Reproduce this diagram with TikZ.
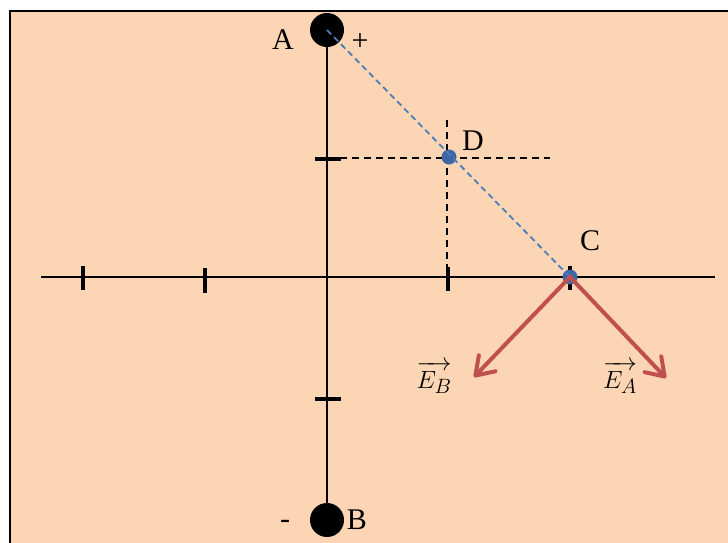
\documentclass[tikz,border=0pt]{standalone}
\usepackage{fontspec}
\setmainfont{Liberation Serif}
\usetikzlibrary{arrows.meta}
\definecolor{peach}{HTML}{FCD5B4}
\definecolor{dotblue}{HTML}{3F67A6}
\definecolor{lineblue}{HTML}{4A7EBB}
\definecolor{fieldred}{HTML}{C0504D}
\pgfdeclarelayer{paper}
\pgfdeclarelayer{under}
\pgfsetlayers{paper,under,main}
\tikzset{
  axis/.style={line width=2.1pt, draw=black},
  tick/.style={line width=3.1pt, draw=black},
  charge/.style={circle, fill=black, minimum size=34pt, inner sep=0pt},
  pointdot/.style={circle, fill=dotblue, minimum size=15pt, inner sep=0pt},
  guide/.style={line width=1.9pt, draw=black, dash pattern=on 7pt off 5pt},
  joinline/.style={line width=1.8pt, draw=lineblue, dash pattern=on 6pt off 4pt},
  efield/.style={line width=4pt, draw=fieldred, line cap=round,
    -{Straight Barb[length=17pt,width=23pt,line width=4pt,round]}},
  lbl/.style={font=\fontsize{30pt}{32pt}\selectfont, inner sep=0pt},
  vlbl/.style={font=\fontsize{29pt}{32pt}\selectfont, inner sep=0pt}
}
\begin{document}
\begin{tikzpicture}[x=1pt,y=-1pt]
\useasboundingbox (0,0) rectangle (728,542);
\clip (0,0) rectangle (728,542);
\begin{pgfonlayer}{paper}
\fill[white] (0,0) rectangle (728,542);
\filldraw[fill=peach, draw=black, line width=2.4pt] (10,11) rectangle (760,580);
\end{pgfonlayer}
% points
\node[charge] (A) at (327,30) {};
\node[charge] (B) at (327,520) {};
\node[pointdot] (D) at (449,157) {};
\node[pointdot] (C) at (570,277) {};
\coordinate (O) at (327,277);
\coordinate (xl) at (41,277);
\coordinate (xr) at (715,277);
\coordinate (gh1) at (340,158);
\coordinate (gh2) at (550,158);
\coordinate (gv1) at (447,120);
\coordinate (gv2) at (447,270);
\coordinate (tipB) at (474,377);
\coordinate (tipA) at (666,378);
\begin{pgfonlayer}{under}
  \draw[axis] (A.center) -- (B.center);
  \draw[axis] (xl) -- (xr);
  \draw[guide] (gh1) -- (gh2);
  \draw[guide] (gv1) -- (gv2);
  \foreach \x/\a/\b in {83/266/290, 205/268/293, 448/267/291, 570/266/290}
    \draw[tick] (\x,\a) -- (\x,\b);
  \foreach \y in {159,399}
    \draw[tick] (315,\y) -- (341,\y);
\end{pgfonlayer}
\draw[joinline] (A.center) -- (C.center);
\draw[efield] (C.center) -- (tipB);
\draw[efield] (C.center) -- (tipA);
% labels
\node[lbl] (labA) at (283,40) {A};
\node[lbl] (plus) at (360,42) {+};
\node[lbl] (minus) at (285,524) {-};
\node[lbl] (labB) at (357,520) {B};
\node[lbl] (labD) at (473,141) {D};
\node[lbl] (labC) at (590,241) {C};
\node[vlbl] (labEB) at (434,378) {$\overrightarrow{E_B\mathstrut}$};
\node[vlbl] (labEA) at (620,378) {$\overrightarrow{E_A\mathstrut}$};
\end{tikzpicture}
\end{document}
